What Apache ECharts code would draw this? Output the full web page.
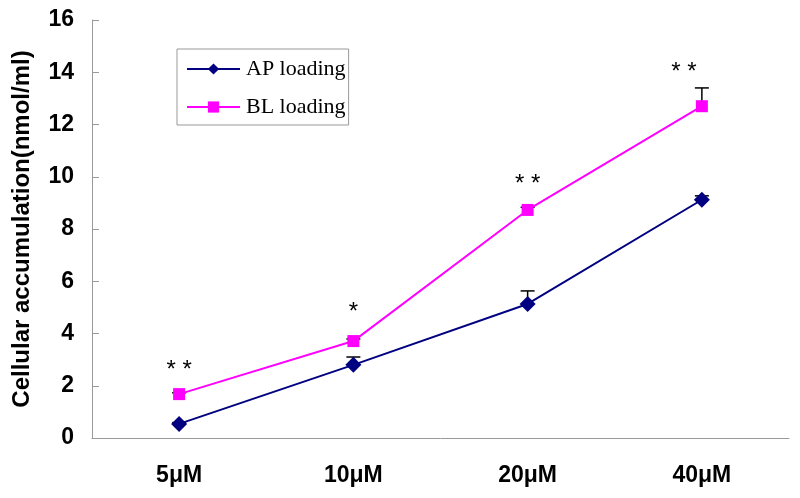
<!DOCTYPE html>
<html>
<head>
<meta charset="utf-8">
<script src="https://cdn.jsdelivr.net/npm/echarts@6/dist/echarts.min.js"></script>
<style>html,body{margin:0;padding:0;background:#fff;}#c{width:800px;height:498px;}</style>
</head>
<body>
<div id="c"></div>
<script>
const categories = ['5μM', '10μM', '20μM', '40μM'];
const apValues = [0.54, 2.8, 5.13, 9.12];
const apErrors = [0.05, 0.3, 0.5, 0.15];
const blValues = [1.68, 3.71, 8.73, 12.7];
const blErrors = [0.05, 0.08, 0.1, 0.7];
const sigMarks = ['* *', '*', '* *', '* *'];
const sigHeights = [2.6, 4.8, 9.7, 14.0];
const yTicks = [0, 2, 4, 6, 8, 10, 12, 14, 16];

const chart = echarts.init(document.getElementById('c'));

function errData(vals, errs) {
  return vals.map((v, i) => [i, v, v + errs[i]]);
}
function errRender(params, api) {
  const x = api.value(0);
  const p0 = api.coord([x, api.value(1)]);
  const p1 = api.coord([x, api.value(2)]);
  const hw = 7;
  return {
    type: 'group',
    children: [
      { type: 'line', shape: { x1: p0[0], y1: p0[1], x2: p1[0], y2: p1[1] }, style: { stroke: '#000', lineWidth: 1.5 } },
      { type: 'line', shape: { x1: p1[0] - hw, y1: p1[1], x2: p1[0] + hw, y2: p1[1] }, style: { stroke: '#000', lineWidth: 1.5 } }
    ]
  };
}

chart.setOption({
  animation: false,
  backgroundColor: '#fff',
  grid: { left: 92, right: 11, top: 20, bottom: 60 },
  legend: {
    orient: 'vertical',
    left: 177, top: 49,
    padding: [9, 3, 7, 9],
    itemGap: 16,
    itemWidth: 53, itemHeight: 14,
    borderColor: '#999', borderWidth: 1,
    textStyle: { fontFamily: '"Liberation Serif", serif', fontSize: 22, color: '#000', padding: [0, 0, 0, 1] },
    data: ['AP loading', 'BL loading']
  },
  xAxis: {
    type: 'category',
    data: categories,
    boundaryGap: true,
    axisLine: { lineStyle: { color: '#999', width: 1 } },
    axisTick: { inside: true, length: 6, lineStyle: { color: '#999' } },
    axisLabel: { margin: 26, fontFamily: 'Arial, "Liberation Sans", sans-serif', fontWeight: 'bold', fontSize: 23, color: '#000' },
    splitLine: { show: false }
  },
  yAxis: {
    type: 'value',
    min: 0, max: 16, interval: 2,
    name: 'Cellular accumulation(nmol/ml)',
    nameLocation: 'middle',
    nameGap: 58,
    nameTextStyle: { fontFamily: 'Arial, "Liberation Sans", sans-serif', fontWeight: 'bold', fontSize: 24, color: '#000' },
    axisLine: { show: true, lineStyle: { color: '#999', width: 1 } },
    axisTick: { show: true, inside: true, length: 7, lineStyle: { color: '#999' } },
    axisLabel: {
      margin: 18,
      fontFamily: 'Arial, "Liberation Sans", sans-serif', fontWeight: 'bold', fontSize: 23, color: '#000',
      formatter: v => yTicks.includes(v) ? String(v) : ''
    },
    splitLine: { show: false }
  },
  series: [
    {
      type: 'custom', name: 'apErr', renderItem: errRender, data: errData(apValues, apErrors), z: 1, silent: true
    },
    {
      type: 'custom', name: 'blErr', renderItem: errRender, data: errData(blValues, blErrors), z: 1, silent: true
    },
    {
      name: 'AP loading', type: 'line', data: apValues,
      symbol: 'diamond', symbolSize: 16,
      lineStyle: { color: '#000080', width: 2 },
      itemStyle: { color: '#000080' },
      z: 3
    },
    {
      name: 'BL loading', type: 'line', data: blValues,
      symbol: 'rect', symbolSize: 12,
      lineStyle: { color: '#ff00ff', width: 2 },
      itemStyle: { color: '#ff00ff' },
      z: 3
    },
    {
      type: 'custom', name: 'sig', silent: true, z: 4,
      data: sigMarks.map((t, i) => [i, sigHeights[i], t]),
      renderItem: function (params, api) {
        const p = api.coord([api.value(0), api.value(1)]);
        const dx = params.dataIndex === 3 ? -18 : 0;
        return {
          type: 'text',
          style: {
            x: p[0] + dx, y: p[1], text: sigMarks[params.dataIndex],
            textAlign: 'center', textVerticalAlign: 'middle',
            fontFamily: 'Arial, "Liberation Sans", sans-serif', fontSize: 24, fill: '#000'
          }
        };
      }
    }
  ]
});
</script>
</body>
</html>
